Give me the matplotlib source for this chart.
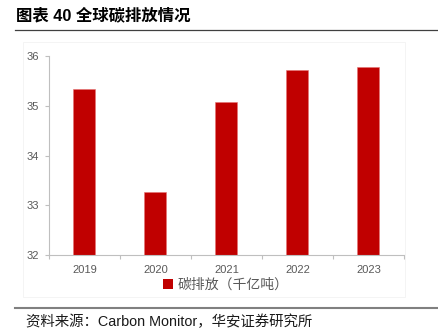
import matplotlib
matplotlib.use('Agg')
import matplotlib.pyplot as plt
import numpy as np
from matplotlib.lines import Line2D
from matplotlib.patches import Rectangle, Patch

plt.rcParams['font.family'] = ['Liberation Sans', 'Noto Sans CJK SC', 'DejaVu Sans']

# 数据
years = ['2019', '2020', '2021', '2022', '2023']
emissions = [35.33, 33.26, 35.08, 35.72, 35.78]
y_ticks = [32, 33, 34, 35, 36]

title = '图表 40 全球碳排放情况'
legend_label = '碳排放（千亿吨）'
source = '资料来源：Carbon Monitor，华安证券研究所'

fig = plt.figure(figsize=(4.39, 3.36), dpi=100)
ax = fig.add_axes([0.1116, 0.241, 0.8084, 0.592])

x = np.arange(len(years))
ax.bar(x, emissions, width=0.31, color='#C00000', edgecolor='#E57373', linewidth=0.4)

ax.set_xlim(-0.5, len(years) - 0.5)
ax.set_ylim(32, 36)
ax.set_yticks(y_ticks)
ax.set_xticks(x)
ax.set_xticklabels(years)
ax.set_xticks(np.arange(-0.5, len(years)), minor=True)

for s in ['top', 'right']:
    ax.spines[s].set_visible(False)
for s in ['left', 'bottom']:
    ax.spines[s].set_color('#BFBFBF')
    ax.spines[s].set_linewidth(0.8)

ax.tick_params(axis='x', which='major', length=0, pad=7, labelsize=8, labelcolor='#595959')
ax.tick_params(axis='x', which='minor', length=3, color='#BFBFBF', width=0.8)
ax.tick_params(axis='y', length=3, color='#BFBFBF', width=0.8, labelsize=8, labelcolor='#595959', pad=4)

# 图例
handles = [Patch(facecolor='#C00000', edgecolor='none', label=legend_label)]
fig.legend(handles=handles, loc='center', bbox_to_anchor=(0.515, 0.152), frameon=False,
           handlelength=0.7, handleheight=0.7, handletextpad=0.35,
           prop={'family': ['Noto Sans CJK SC'], 'size': 10}, labelcolor='#595959')

# 标题和来源
fig.text(16 / 439, 1 - 15 / 336, title, fontsize=11.8, fontweight='bold', va='center', ha='left',
         family=['Liberation Sans', 'Noto Sans CJK SC'], color='#000000')
fig.text(26 / 439, 1 - 322 / 336, source, fontsize=10.4, va='center', ha='left',
         family=['Liberation Sans', 'Noto Sans CJK SC'], color='#1a1a1a')

fig.add_artist(Line2D([15 / 439, 1], [1 - 30 / 336] * 2, color='#404040', lw=0.9))
fig.add_artist(Line2D([15 / 439, 1], [1 - 308 / 336] * 2, color='#808080', lw=1.5))
fig.add_artist(Rectangle((23 / 439, 1 - 297 / 336), (405 - 23) / 439, (297 - 42) / 336,
                         fill=False, edgecolor='#F2F2F2', lw=0.6))

fig.savefig('out.png', dpi=100)
